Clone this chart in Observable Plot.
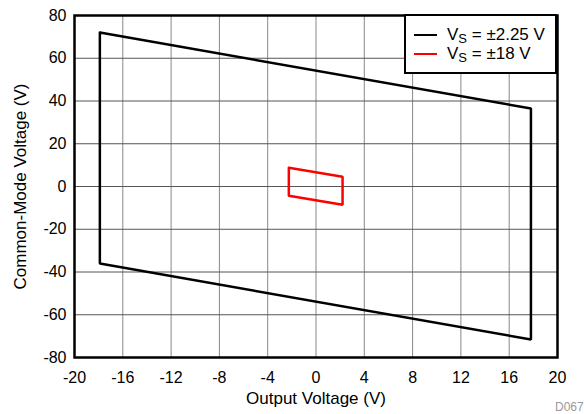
<!DOCTYPE html>
<html><head><meta charset="utf-8">
<script src="https://cdn.jsdelivr.net/npm/d3@7"></script>
<script src="https://cdn.jsdelivr.net/npm/@observablehq/plot@0.6"></script>
<style>
body{margin:0;background:#fff;font-family:"Liberation Sans",Arial,Helvetica,sans-serif;}
#wrap{position:relative;width:584px;height:414px;overflow:hidden;}
.legend{position:absolute;left:404px;top:14px;width:149px;height:56px;border:2px solid #000;background:#fff;font-size:17px;color:#000;}
.legend .row{position:absolute;left:8px;height:20px;display:flex;align-items:center;white-space:nowrap;}
.legend .sw{width:23px;height:0;border-top:2.5px solid;margin-right:10px;}
.legend sub{font-size:13px;vertical-align:-3px;line-height:0;}
.code{position:absolute;left:555px;top:400px;font-size:12px;color:#999;}
</style></head>
<body><div id="wrap"></div>
<script>
const xTicks = [-20, -16, -12, -8, -4, 0, 4, 8, 12, 16, 20];
const yTicks = [-80, -60, -40, -20, 0, 20, 40, 60, 80];
const xLabel = "Output Voltage (V)";
const yLabel = "Common-Mode Voltage (V)";
const seriesNames = ["V<sub>S</sub> = ±2.25 V", "V<sub>S</sub> = ±18 V"];
const seriesColors = ["#000000", "#ff0000"];
// Black outline (Output Voltage, Common-Mode Voltage), closed
const blackX = [-17.9, 17.8, 17.8, -17.9, -17.9];
const blackY = [72, 36.5, -71.6, -36, 72];
// Red outline, closed
const redX = [-2.25, 2.2, 2.2, -2.25, -2.25];
const redY = [8.8, 4.6, -8.5, -4.3, 8.8];

const blackData = blackX.map((x, i) => ({x, y: blackY[i]}));
const redData = redX.map((x, i) => ({x, y: redY[i]}));

const chart = Plot.plot({
  width: 584,
  height: 414,
  marginLeft: 74,
  marginRight: 27,
  marginTop: 15,
  marginBottom: 57,
  style: {fontFamily: "'Liberation Sans', Arial, Helvetica, sans-serif", fontSize: "16px", color: "#000", background: "#fff"},
  x: {domain: [-20, 20]},
  y: {domain: [-80, 80]},
  marks: [
    Plot.gridX(xTicks, {stroke: "#888", strokeOpacity: 1, strokeWidth: 1}),
    Plot.gridY(yTicks, {stroke: "#555", strokeOpacity: 1, strokeWidth: 1}),
    Plot.axisX(xTicks, {tickSize: 0, tickPadding: 14, fontSize: 16, tickFormat: d => String(d), label: null}),
    Plot.axisY(yTicks, {tickSize: 0, tickPadding: 8, fontSize: 16, tickFormat: d => String(d), label: null}),
    Plot.text([xLabel], {text: d => d, frameAnchor: "bottom", textAnchor: "middle", lineAnchor: "middle", dy: 41, fontSize: 17, fill: "#000"}),
    Plot.text([yLabel], {text: d => d, frameAnchor: "left", textAnchor: "middle", lineAnchor: "middle", rotate: -90, dx: -54, fontSize: 17, fill: "#000"}),
    Plot.line(blackData, {x: "x", y: "y", stroke: seriesColors[0], strokeWidth: 2.5, strokeLinejoin: "miter", curve: "linear"}),
    Plot.line(redData, {x: "x", y: "y", stroke: seriesColors[1], strokeWidth: 2.5, strokeLinejoin: "miter", curve: "linear"}),
    Plot.frame({stroke: "#000", strokeWidth: 2.5})
  ]
});
const wrap = document.getElementById("wrap");
wrap.appendChild(chart);
const leg = document.createElement("div");
leg.className = "legend";
seriesNames.forEach((n, i) => {
  const r = document.createElement("div");
  r.className = "row";
  r.style.top = (i === 0 ? 9 : 28) + "px";
  r.innerHTML = `<span class="sw" style="border-color:${seriesColors[i]}"></span><span>${n}</span>`;
  leg.appendChild(r);
});
wrap.appendChild(leg);
const code = document.createElement("div");
code.className = "code";
code.textContent = "D067";
wrap.appendChild(code);
</script>
</body></html>
